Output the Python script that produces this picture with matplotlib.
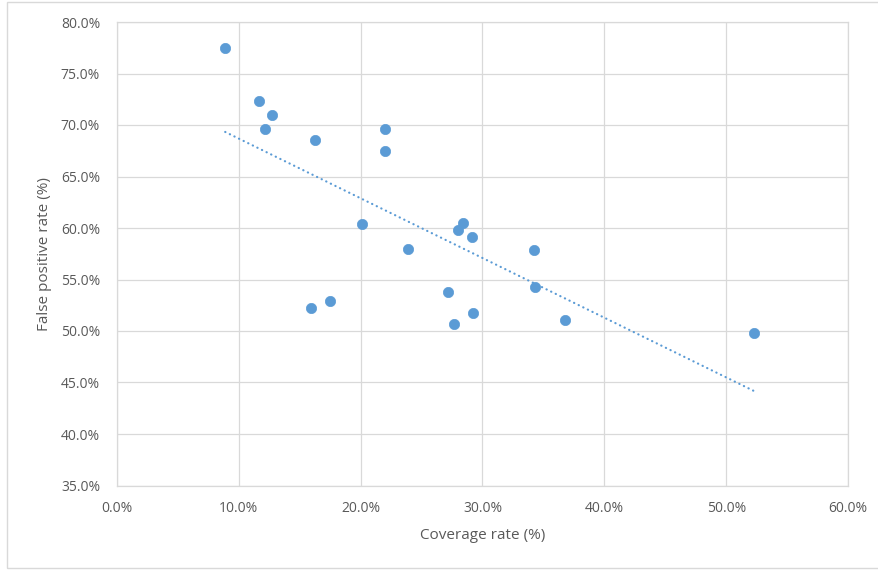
import numpy as np
import matplotlib.pyplot as plt
from matplotlib.patches import Rectangle
from matplotlib.ticker import FuncFormatter

# coverage rate (%) vs false positive rate (%)
coverage = [8.9, 11.7, 12.7, 12.2, 16.3, 22.0, 22.0,
            20.1, 28.4, 28.0, 29.1, 23.9, 34.2, 34.3,
            27.2, 17.5, 15.9, 29.2, 27.7, 36.8, 52.3]
false_pos = [77.5, 72.3, 71.0, 69.6, 68.5, 69.6, 67.5,
             60.4, 60.5, 59.8, 59.1, 58.0, 57.9, 54.3,
             53.8, 52.9, 52.2, 51.7, 50.7, 51.1, 49.8]

x_ticks = [0, 10, 20, 30, 40, 50, 60]
y_ticks = [35, 40, 45, 50, 55, 60, 65, 70, 75, 80]

azul = '#5B9BD5'
cinza = '#D9D9D9'
texto = '#595959'

plt.rcParams['font.family'] = ['Open Sans', 'DejaVu Sans']

fig = plt.figure(figsize=(8.79, 5.70), dpi=100)
ax = fig.add_axes([116.7 / 879, 1 - 485.5 / 570, (848.3 - 116.7) / 879, (485.5 - 22) / 570])

# borda externa do gráfico
fig.patches.append(Rectangle((7 / 879, 2 / 570), 1.0, 566 / 570, transform=fig.transFigure,
                             fill=False, edgecolor=cinza, linewidth=1.0))

ax.scatter(coverage, false_pos, s=55, color=azul, edgecolors=azul, linewidths=0.5, zorder=3)

# linha de tendência linear
a, b = np.polyfit(coverage, false_pos, 1)
xt = np.array([min(coverage), max(coverage)])
ax.plot(xt, a * xt + b, color=azul, linewidth=1.6, linestyle=(0, (0.1, 2.2)),
        dash_capstyle='round', zorder=2)

ax.set_xlim(0, 60)
ax.set_ylim(35, 80)
ax.set_xticks(x_ticks)
ax.set_yticks(y_ticks)
ax.xaxis.set_major_formatter(FuncFormatter(lambda v, p: f"{v:.1f}%"))
ax.yaxis.set_major_formatter(FuncFormatter(lambda v, p: f"{v:.1f}%"))
ax.tick_params(length=0, labelsize=10, labelcolor=texto)
ax.tick_params(axis='y', pad=12)
ax.tick_params(axis='x', pad=11)

ax.grid(True, color=cinza, linewidth=0.9)
ax.set_axisbelow(True)
for s in ax.spines.values():
    s.set_color(cinza)
    s.set_linewidth(0.9)

ax.set_xlabel("Coverage rate (%)", fontsize=11, color=texto, labelpad=9)
ax.set_ylabel("False positive rate (%)", fontsize=11, color=texto, labelpad=6)

fig.savefig('out.png', dpi=100)
